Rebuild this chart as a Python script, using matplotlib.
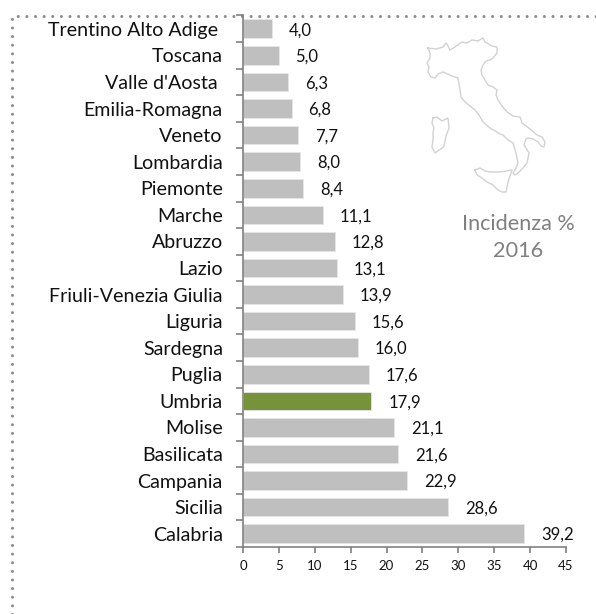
import matplotlib
matplotlib.use("Agg")
import matplotlib.pyplot as plt
from matplotlib.lines import Line2D
from matplotlib.ticker import FixedLocator, NullFormatter, FixedFormatter

regions = ["Trentino Alto Adige ", "Toscana", "Valle d'Aosta ", "Emilia-Romagna", "Veneto",
           "Lombardia", "Piemonte", "Marche", "Abruzzo", "Lazio", "Friuli-Venezia Giulia",
           "Liguria", "Sardegna", "Puglia", "Umbria", "Molise", "Basilicata", "Campania",
           "Sicilia", "Calabria"]
values = [4.0, 5.0, 6.3, 6.8, 7.7, 8.0, 8.4, 11.1, 12.8, 13.1, 13.9, 15.6, 16.0, 17.6,
          17.9, 21.1, 21.6, 22.9, 28.6, 39.2]
highlight = "Umbria"
x_ticks = [0, 5, 10, 15, 20, 25, 30, 35, 40, 45]

# outline of the map, traced in pixels of the picture
mainland = [(428, 48), (436, 49), (443, 47), (446, 43), (448, 46), (450, 50), (455, 47), (462, 42),
            (467, 43), (472, 40), (478, 41), (483, 38), (485, 42), (487, 43), (492, 46), (497, 47),
            (497, 53), (493, 58), (490, 60), (486, 61), (483, 65), (481, 70), (482, 75), (485, 80),
            (488, 85), (493, 87), (497, 90), (496, 95), (498, 100), (502, 106), (507, 112), (513, 116),
            (520, 117), (521, 120), (522, 123), (530, 129), (537, 135), (542, 137), (545, 142),
            (544, 147), (541, 146), (538, 142), (533, 139), (528, 138), (526, 139), (524, 145),
            (526, 148), (529, 153), (528, 158), (527, 163), (523, 168), (518, 173), (515, 175),
            (513, 173), (516, 168), (518, 163), (516, 153), (513, 143), (508, 140), (503, 135),
            (500, 134), (497, 132), (490, 128), (483, 122), (479, 115), (475, 110), (470, 106),
            (465, 102), (461, 97), (460, 90), (459, 84), (458, 78), (452, 76), (443, 72), (438, 74),
            (435, 78), (431, 77), (428, 72), (429, 67), (427, 63), (430, 58), (430, 53), (428, 48)]
sardinia = [(433, 118), (437, 117), (442, 121), (448, 118), (449, 128), (446, 136), (444, 146),
            (441, 149), (439, 150), (435, 153), (432, 147), (433, 140), (433, 133), (434, 128),
            (432, 123), (433, 118)]
sicily = [(475, 170), (480, 168), (485, 171), (490, 172), (500, 172), (512, 170), (510, 176),
          (508, 182), (507, 187), (506, 192), (502, 192), (498, 190), (493, 185), (487, 182),
          (482, 178), (477, 175), (475, 170)]

W, H = 596, 614
plt.rcParams["font.family"] = ["Lato", "DejaVu Sans"]
plt.rcParams["lines.scale_dashes"] = False

fig = plt.figure(figsize=(W / 100, H / 100), dpi=100)
left, right, top, bottom = 243, 566, 15.5, 547
ax = fig.add_axes([left / W, 1 - bottom / H, (right - left) / W, (bottom - top) / H])
ax.patch.set_visible(False)

colors = ["#76933C" if r == highlight else "#BFBFBF" for r in regions]
pos = list(range(len(regions)))
ax.barh(pos, values, height=0.7, color=colors, edgecolor="#E6E6E6", linewidth=0.6)
ax.set_xlim(0, 45)
ax.set_ylim(len(regions) - 0.5, -0.5)

for p, v in zip(pos, values):
    ax.annotate(f"{v:.1f}".replace(".", ","), (v, p), xytext=(12, -1), textcoords="offset points",
                ha="left", va="center", fontsize=12, color="#111111")

ax.yaxis.set_major_locator(FixedLocator([p - 0.5 for p in pos] + [len(pos) - 0.5]))
ax.yaxis.set_major_formatter(NullFormatter())
ax.yaxis.set_minor_locator(FixedLocator(pos))
ax.yaxis.set_minor_formatter(FixedFormatter(regions))
ax.tick_params(axis="y", which="major", length=5, width=1.2, color="#808080")
ax.tick_params(axis="y", which="minor", length=0, pad=14.5, labelsize=14.1, labelcolor="#111111")
ax.set_xticks(x_ticks)
ax.tick_params(axis="x", length=4, width=1.2, color="#808080", labelsize=9.5, pad=5.5, labelcolor="#111111")
for s in ["top", "right"]:
    ax.spines[s].set_visible(False)
for s in ["left", "bottom"]:
    ax.spines[s].set_color("#808080")
    ax.spines[s].set_linewidth(1.2)

for shape in [mainland, sardinia, sicily]:
    xs = [p[0] / W for p in shape]
    ys = [1 - p[1] / H for p in shape]
    fig.add_artist(Line2D(xs, ys, color="#D2D2D2", lw=1.0, solid_joinstyle="round"))

fig.text(518 / W, 1 - 224 / H, "Incidenza %", ha="center", va="center", fontsize=15.6, color="#808080")
fig.text(518 / W, 1 - 251 / H, "2016", ha="center", va="center", fontsize=15.6, color="#808080")

# dotted frame, open on the right and at the bottom
dots = (0, (0.01, 6.2))
fig.add_artist(Line2D([11.5 / W, 11.5 / W, 1], [0, 1 - 15.5 / H, 1 - 15.5 / H], color="#8C8C8C", lw=2.2,
                      linestyle=dots, dash_capstyle="round", zorder=0))

fig.savefig("out.png", dpi=100)
